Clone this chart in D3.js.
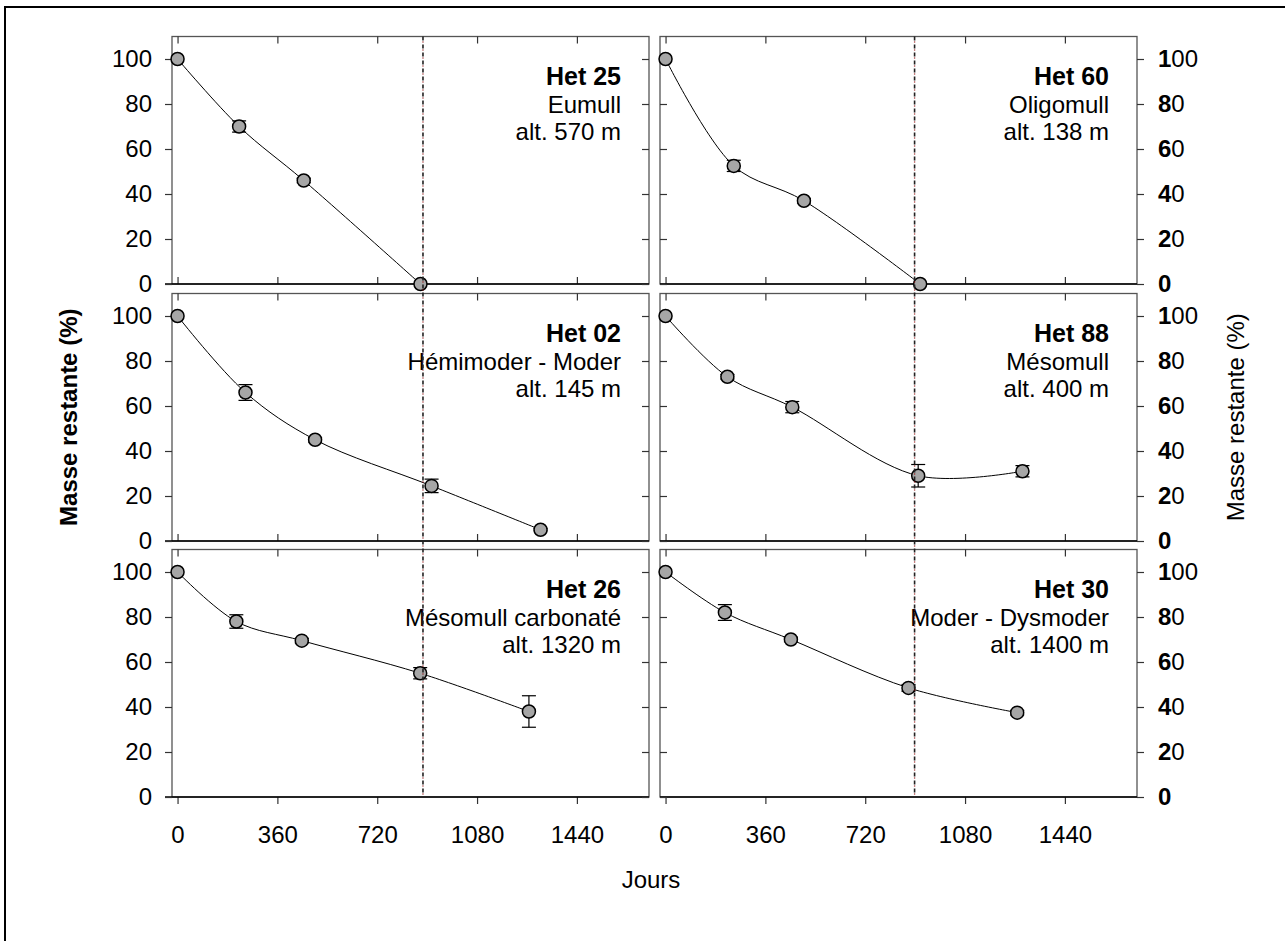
<!DOCTYPE html>
<html>
<head>
<meta charset="utf-8">
<script src="https://cdn.jsdelivr.net/npm/d3@7"></script>
<style>
    body { margin: 0; background: #fff; }
    text { font-family: "Liberation Sans", Arial, sans-serif; fill: #000; }
</style>
</head>
<body>
<svg id="chart" width="1285" height="941"></svg>
<script>
// panels, read left to right, top to bottom
var siteNames = ['Het 25', 'Het 60', 'Het 02', 'Het 88', 'Het 26', 'Het 30'];
var humusTypes = ['Eumull', 'Oligomull', 'Hémimoder - Moder', 'Mésomull', 'Mésomull carbonaté', 'Moder - Dysmoder'];
var altitudes = ['alt. 570 m', 'alt. 138 m', 'alt. 145 m', 'alt. 400 m', 'alt. 1320 m', 'alt. 1400 m'];

// days since start / remaining mass (%) / error
var het25Days = [0, 222, 455, 876];
var het25Mass = [100, 70, 46, 0];
var het25Err = [0, 2.5, 1, 0];

var het60Days = [0, 246, 499, 918];
var het60Mass = [100, 52.5, 37, 0];
var het60Err = [0, 2.5, 1, 0];

var het02Days = [0, 245, 496, 916, 1309];
var het02Mass = [100, 66, 45, 24.5, 5];
var het02Err = [0, 3.5, 1, 3, 0.5];

var het88Days = [0, 223, 457, 911, 1287];
var het88Mass = [100, 73, 59.5, 29, 31];
var het88Err = [0, 1, 2.5, 5, 2.5];

var het26Days = [0, 212, 448, 875, 1267];
var het26Mass = [100, 78, 69.5, 55, 38];
var het26Err = [0, 3, 1, 2.5, 7];

var het30Days = [0, 214, 452, 876, 1268];
var het30Mass = [100, 82, 70, 48.5, 37.5];
var het30Err = [0, 3.5, 1, 1.5, 1];

// dotted reference line, one per column
var refDays = [885, 898];

var xTicks = [0, 360, 720, 1080, 1440];
var yTicks = [0, 20, 40, 60, 80, 100];

const PANEL_W = 477;
const PANEL_H = 247.5;
const COL_X = [172, 660];
const ROW_Y = [36.5, 293.5, 549.5];

var seriesDays = [het25Days, het60Days, het02Days, het88Days, het26Days, het30Days];
var seriesMass = [het25Mass, het60Mass, het02Mass, het88Mass, het26Mass, het30Mass];
var seriesErr = [het25Err, het60Err, het02Err, het88Err, het26Err, het30Err];

var svg = d3.select('#chart');

svg.append('rect')
    .attr('x', 5).attr('y', 7)
    .attr('width', 1300).attr('height', 1000)
    .attr('fill', 'none')
    .attr('stroke', '#000')
    .attr('stroke-width', 2);

var xScale = d3.scaleLinear().domain([-20, 1700]).range([0, PANEL_W]);
var yScale = d3.scaleLinear().domain([0, 110]).range([PANEL_H, 0]);

var line = d3.line()
    .x(function (d) { return xScale(d[0]); })
    .y(function (d) { return yScale(d[1]); })
    .curve(d3.curveCatmullRom.alpha(0.5));

var styleAxis = function (g) {
    g.select('.domain').remove();
    g.selectAll('.tick line').attr('stroke', '#333').attr('stroke-width', 1.2);
    g.selectAll('.tick text').attr('font-size', 24).attr('font-family', '"Liberation Sans", Arial, sans-serif');
};

// first digit bold, the rest regular, as in the original right axis
var mixedLabel = function (g) {
    g.selectAll('.tick text').each(function (d) {
        var t = d3.select(this);
        var s = String(d);
        t.text(null);
        t.append('tspan').attr('font-weight', 'bold').text(s.charAt(0));
        if (s.length > 1) t.append('tspan').text(s.slice(1));
    });
};

siteNames.forEach(function (name, i) {
    var col = i % 2;
    var row = Math.floor(i / 2);
    var g = svg.append('g')
        .attr('transform', 'translate(' + COL_X[col] + ',' + ROW_Y[row] + ')');

    // frame
    g.append('rect')
        .attr('width', PANEL_W).attr('height', PANEL_H)
        .attr('fill', 'none')
        .attr('stroke', '#555')
        .attr('stroke-width', 1.3);

    // top ticks (inside)
    g.append('g')
        .call(d3.axisTop(xScale).tickValues(xTicks).tickSize(-7).tickFormat(''))
        .call(styleAxis);

    // bottom ticks
    var bottom = g.append('g').attr('transform', 'translate(0,' + PANEL_H + ')');
    if (row < 2) {
        bottom.call(d3.axisBottom(xScale).tickValues(xTicks).tickSize(-7).tickFormat(''))
            .call(styleAxis);
    } else {
        bottom.call(d3.axisBottom(xScale).tickValues(xTicks).tickSize(7).tickPadding(22).tickFormat(d3.format('d')))
            .call(styleAxis);
    }
    g.append('line')
        .attr('x1', col === 0 ? -7 : 0).attr('x2', PANEL_W)
        .attr('y1', PANEL_H).attr('y2', PANEL_H)
        .attr('stroke', '#000').attr('stroke-width', 1.5);

    // left ticks
    if (col === 0) {
        g.append('g')
            .call(d3.axisLeft(yScale).tickValues(yTicks).tickSize(7).tickPadding(13))
            .call(styleAxis);
    } else {
        g.append('g')
            .call(d3.axisLeft(yScale).tickValues(yTicks).tickSize(-7).tickFormat(''))
            .call(styleAxis);
    }

    // right ticks
    var right = g.append('g').attr('transform', 'translate(' + PANEL_W + ',0)');
    if (col === 1) {
        right.call(d3.axisRight(yScale).tickValues(yTicks).tickSize(7).tickPadding(14))
            .call(styleAxis)
            .call(mixedLabel);
    } else {
        right.call(d3.axisRight(yScale).tickValues(yTicks).tickSize(-7).tickFormat(''))
            .call(styleAxis);
    }

    var pts = seriesDays[i].map(function (d, k) {
        return [d, seriesMass[i][k], seriesErr[i][k]];
    });

    g.append('path')
        .attr('d', line(pts))
        .attr('fill', 'none')
        .attr('stroke', '#000')
        .attr('stroke-width', 1);

    var bars = g.append('g').selectAll('g')
        .data(pts.filter(function (d) { return d[2] > 0; }))
        .enter().append('g');
    bars.append('line')
        .attr('x1', function (d) { return xScale(d[0]); })
        .attr('x2', function (d) { return xScale(d[0]); })
        .attr('y1', function (d) { return yScale(d[1] - d[2]); })
        .attr('y2', function (d) { return yScale(d[1] + d[2]); })
        .attr('stroke', '#000').attr('stroke-width', 1.2);
    [-1, 1].forEach(function (sgn) {
        bars.append('line')
            .attr('x1', function (d) { return xScale(d[0]) - 7; })
            .attr('x2', function (d) { return xScale(d[0]) + 7; })
            .attr('y1', function (d) { return yScale(d[1] + sgn * d[2]); })
            .attr('y2', function (d) { return yScale(d[1] + sgn * d[2]); })
            .attr('stroke', '#000').attr('stroke-width', 1.2);
    });

    g.append('g').selectAll('circle')
        .data(pts)
        .enter().append('circle')
        .attr('cx', function (d) { return xScale(d[0]); })
        .attr('cy', function (d) { return yScale(d[1]); })
        .attr('r', 6.5)
        .attr('fill', '#a6a6a6')
        .attr('stroke', '#000')
        .attr('stroke-width', 1.5);

    var tx = PANEL_W - 28;
    g.append('text')
        .attr('x', tx).attr('y', 48)
        .attr('text-anchor', 'end')
        .attr('font-size', 25)
        .attr('font-weight', 'bold')
        .text(name);
    g.append('text')
        .attr('x', tx).attr('y', 76)
        .attr('text-anchor', 'end')
        .attr('font-size', 24)
        .text(humusTypes[i]);
    g.append('text')
        .attr('x', tx).attr('y', 103)
        .attr('text-anchor', 'end')
        .attr('font-size', 24)
        .text(altitudes[i]);
});

// dotted reference lines through the whole column
refDays.forEach(function (d, col) {
    var x = COL_X[col] + xScale(d);
    var y1 = ROW_Y[0];
    var y2 = ROW_Y[2] + PANEL_H;
    svg.append('line')
        .attr('x1', x).attr('x2', x).attr('y1', y1).attr('y2', y2)
        .attr('stroke', '#8b0000').attr('stroke-width', 1.3)
        .attr('stroke-dasharray', '1,7').attr('stroke-dashoffset', -5);
    svg.append('line')
        .attr('x1', x).attr('x2', x).attr('y1', y1).attr('y2', y2)
        .attr('stroke', '#222').attr('stroke-width', 1.6)
        .attr('stroke-dasharray', '4,4');
});

svg.append('text')
    .attr('transform', 'translate(77,' + (ROW_Y[1] + PANEL_H / 2) + ') rotate(-90)')
    .attr('text-anchor', 'middle')
    .attr('font-size', 24)
    .attr('font-weight', 'bold')
    .text('Masse restante (%)');

svg.append('text')
    .attr('transform', 'translate(1244,' + (ROW_Y[1] + PANEL_H / 2) + ') rotate(-90)')
    .attr('text-anchor', 'middle')
    .attr('font-size', 24)
    .text('Masse restante (%)');

svg.append('text')
    .attr('x', 651)
    .attr('y', 888)
    .attr('text-anchor', 'middle')
    .attr('font-size', 24)
    .text('Jours');
</script>
</body>
</html>
